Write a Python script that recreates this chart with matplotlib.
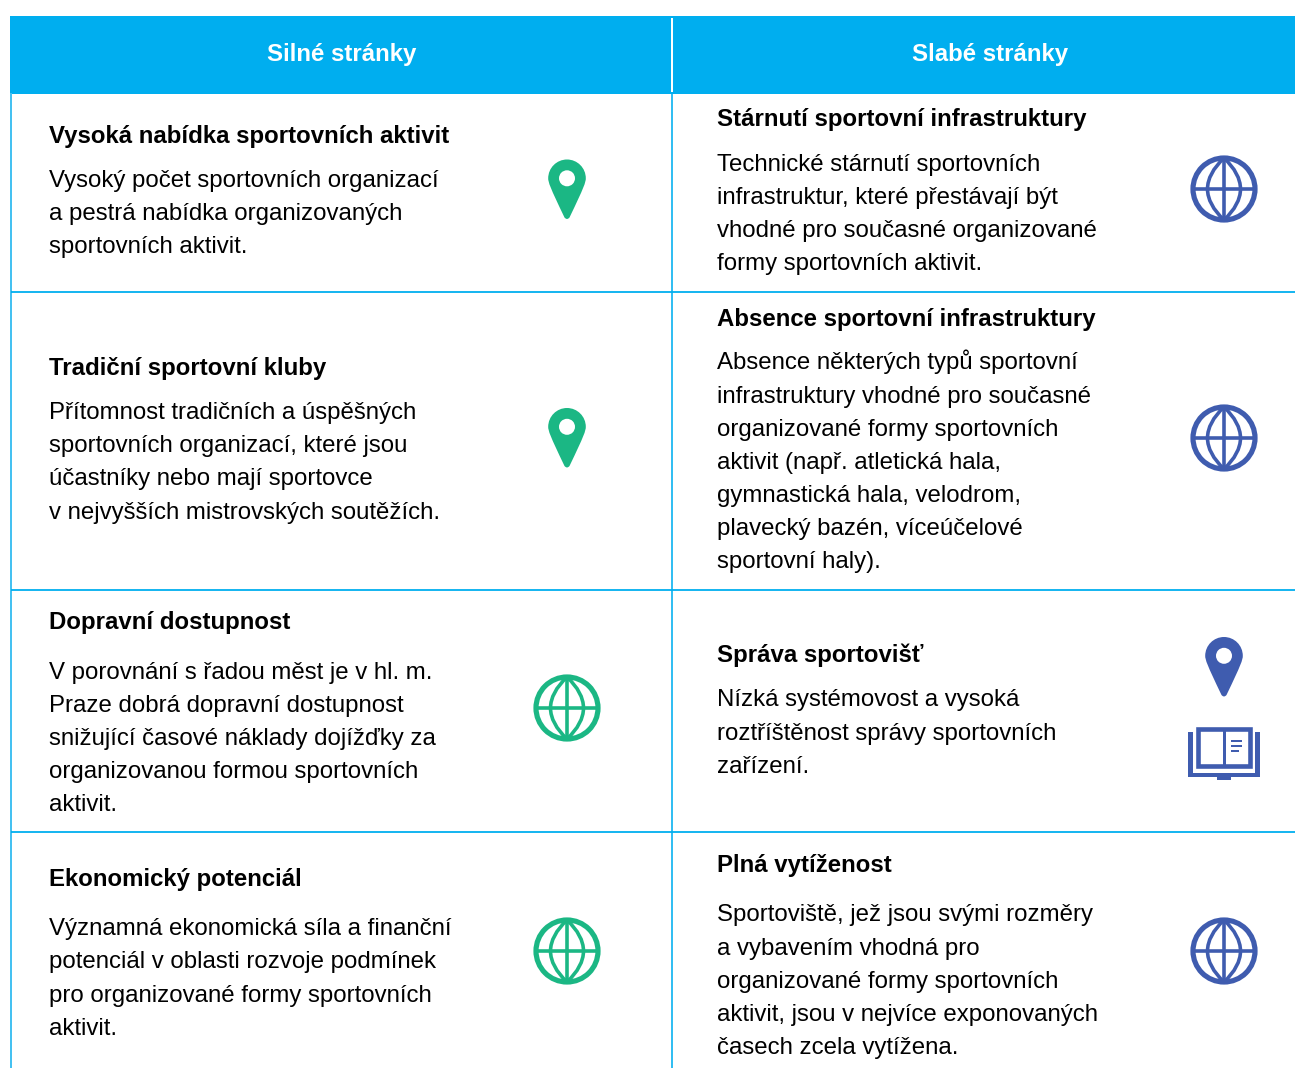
import matplotlib
matplotlib.use("Agg")
import matplotlib.pyplot as plt
from matplotlib.patches import Circle, PathPatch, Rectangle
from matplotlib.path import Path

plt.rcParams["font.family"] = ["Liberation Sans", "DejaVu Sans"]

CYAN = "#00AEEF"
LINE = "#45C1F1"
GREEN = "#1BB784"
BLUE = "#3F5CAF"
TEXT = "black"

headers = ["Silné stránky", "Slabé stránky"]

left_titles = ["Vysoká nabídka sportovních aktivit", "Tradiční sportovní kluby",
               "Dopravní dostupnost", "Ekonomický potenciál"]
left_bodies = [
    ["Vysoký počet sportovních organizací", "a pestrá nabídka organizovaných", "sportovních aktivit."],
    ["Přítomnost tradičních a úspěšných", "sportovních organizací, které jsou",
     "účastníky nebo mají sportovce", "v nejvyšších mistrovských soutěžích."],
    ["V porovnání s řadou měst je v hl. m.", "Praze dobrá dopravní dostupnost",
     "snižující časové náklady dojížďky za", "organizovanou formou sportovních", "aktivit."],
    ["Významná ekonomická síla a finanční", "potenciál v oblasti rozvoje podmínek",
     "pro organizované formy sportovních", "aktivit."],
]
right_titles = ["Stárnutí sportovní infrastruktury", "Absence sportovní infrastruktury",
                "Správa sportovišť", "Plná vytíženost"]
right_bodies = [
    ["Technické stárnutí sportovních", "infrastruktur, které přestávají být",
     "vhodné pro současné organizované", "formy sportovních aktivit."],
    ["Absence některých typů sportovní", "infrastruktury vhodné pro současné",
     "organizované formy sportovních", "aktivit (např. atletická hala,",
     "gymnastická hala, velodrom,", "plavecký bazén, víceúčelové", "sportovní haly)."],
    ["Nízká systémovost a vysoká", "roztříštěnost správy sportovních", "zařízení."],
    ["Sportoviště, jež jsou svými rozměry", "a vybavením vhodná pro",
     "organizované formy sportovních", "aktivit, jsou v nejvíce exponovaných",
     "časech zcela vytížena."],
]

# baselines in pixels from the top
left_title_y = [143, 375, 629, 886]
left_body_y = [[187, 220, 253], [419, 452, 485, 519], [679, 712, 745, 778, 811], [935, 968, 1002, 1035]]
right_title_y = [126, 326, 662, 872]
right_body_y = [[171, 204, 237, 270], [369, 403, 436, 469, 502, 535, 568], [706, 740, 773],
                [921, 955, 988, 1021, 1054]]

PX = 0.72  # px to pt at dpi 100
BODY = 24.05 * PX
TITLE = 24.05 * PX

fig = plt.figure(figsize=(12.95, 10.68), dpi=100)
ax = fig.add_axes([0, 0, 1, 1])
ax.set_xlim(0, 1295)
ax.set_ylim(1068, 0)
ax.axis("off")


def pin(cx, top, color):
    r = 18.8
    cy = top + r
    tip = top + 60
    k = 0.552 * r
    verts = [(cx - r, cy), (cx - r, cy - k), (cx - k, top), (cx, top),
             (cx + k, top), (cx + r, cy - k), (cx + r, cy),
             (cx + r, cy + 4), (cx + 17, cy + 9), (cx + 2.5, tip - 2),
             (cx, tip + 1), (cx - 2.5, tip - 2),
             (cx - 17, cy + 9), (cx - r, cy + 4), (cx - r, cy), (cx - r, cy)]
    codes = [Path.MOVETO] + [Path.CURVE4] * 6 + [Path.CURVE4] * 3 + [Path.CURVE3] * 2 + [Path.CURVE4] * 3 + [Path.CLOSEPOLY]
    ax.add_patch(PathPatch(Path(verts, codes), fc=color, ec="none"))
    ax.add_patch(Circle((cx, cy), 8, fc="white", ec="none"))


def globe(cx, cy, color):
    r = 31
    lw = 3.6 * PX
    ax.add_patch(Circle((cx, cy), r, fc="none", ec=color, lw=5.2 * PX))
    ax.plot([cx - r, cx + r], [cy, cy], color=color, lw=lw)
    ax.plot([cx, cx], [cy - r, cy + r], color=color, lw=lw)
    for s in (-1, 1):
        p = Path([(cx, cy - r), (cx + s * 33, cy), (cx, cy + r)], [Path.MOVETO, Path.CURVE3, Path.CURVE3])
        ax.add_patch(PathPatch(p, fc="none", ec=color, lw=lw))


def book(color):
    rects = [(1188, 732, 4.7, 45), (1255.3, 732, 4.7, 45), (1188, 772.7, 72, 4.6),
             (1216.7, 777, 14, 3), (1222.7, 728, 2.8, 40),
             (1230.7, 740, 11.3, 2.4), (1230.7, 745, 11.3, 2.4), (1230.7, 750, 7.8, 2.4)]
    for x, y, w, h in rects:
        ax.add_patch(Rectangle((x, y), w, h, fc=color, ec="none"))
    ax.add_patch(Rectangle((1198.3, 729), 51.2, 37, fc="none", ec=color, lw=4.6 * PX))


# header band and grid
ax.add_patch(Rectangle((10, 16), 1285, 78, fc=CYAN, ec="none"))
ax.plot([671.7, 671.7], [18, 92.3], color="white", lw=2 * PX, solid_capstyle="butt")
ax.plot([11, 11], [93, 1068], color=LINE, lw=2 * PX, solid_capstyle="butt")
ax.plot([672.3, 672.3], [94, 1068], color=CYAN, lw=1.6 * PX, solid_capstyle="butt")
for y in [292, 590, 832]:
    ax.plot([11, 1295], [y, y], color=CYAN, lw=1.8 * PX, solid_capstyle="butt")

for x, h in zip([341.5, 990.5], headers):
    ax.text(x, 61, h, color="white", fontsize=TITLE, fontweight="bold", ha="center", va="baseline")

for x, titles, tys, bodies, bys in [(49, left_titles, left_title_y, left_bodies, left_body_y),
                                    (717, right_titles, right_title_y, right_bodies, right_body_y)]:
    for t, ty, lines, ys in zip(titles, tys, bodies, bys):
        ax.text(x, ty, t, color=TEXT, fontsize=TITLE, fontweight="bold", va="baseline")
        for line, y in zip(lines, ys):
            ax.text(x, y, line, color=TEXT, fontsize=BODY, va="baseline")

# icons
pin(567, 159.5, GREEN)
pin(567, 408, GREEN)
pin(1224, 637, BLUE)
globe(567, 708, GREEN)
globe(567, 951, GREEN)
globe(1224, 189, BLUE)
globe(1224, 438, BLUE)
globe(1224, 951, BLUE)
book(BLUE)

fig.savefig("out.png", dpi=100)
